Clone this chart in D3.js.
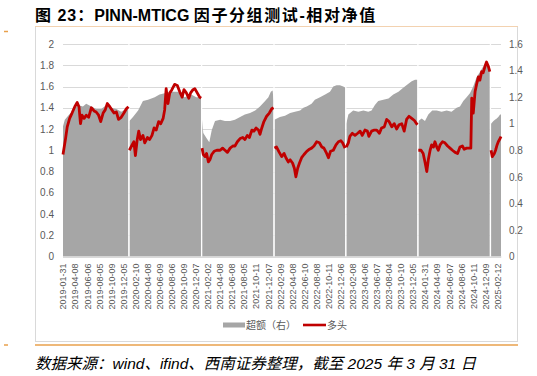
<!DOCTYPE html>
<html lang="zh">
<head>
<meta charset="utf-8">
<title>PINN-MTICG 因子分组测试-相对净值</title>
<script src="https://cdn.jsdelivr.net/npm/d3@7/dist/d3.min.js"></script>
<style>
  body { margin: 0; background: #fff; }
  text { font-family: "Liberation Sans", "Noto Sans CJK SC", sans-serif; }
</style>
</head>
<body>
<script>
// x labels sit every 40 trading days from 2019-01-31
var xLabels = ["2019-01-31","2019-04-08","2019-06-06","2019-08-05","2019-10-09","2019-12-05",
  "2020-02-10","2020-04-08","2020-06-09","2020-08-06","2020-10-09","2020-12-07",
  "2021-02-02","2021-04-08","2021-06-08","2021-08-05","2021-10-11","2021-12-07",
  "2022-02-09","2022-04-08","2022-06-10","2022-08-08","2022-10-11","2022-12-06",
  "2023-02-08","2023-04-06","2023-06-07","2023-08-04","2023-10-10","2023-12-05",
  "2024-01-31","2024-04-09","2024-06-07","2024-08-06","2024-10-11","2024-12-09","2025-02-12"];
var labelStep = 40;
var lastDay = 1452;

var leftTicks = [0, 0.2, 0.4, 0.6, 0.8, 1, 1.2, 1.4, 1.6, 1.8, 2];
var rightTicks = [0, 0.2, 0.4, 0.6, 0.8, 1, 1.2, 1.4, 1.6];

// 多头 (left axis): [trading day, value], one array per year
var longNav = [
  [[0,0.96],[8,1.10],[14,1.22],[22,1.30],[30,1.35],[39,1.41],[47,1.45],[53,1.41],[58,1.25],[63,1.33],[70,1.30],[77,1.33],[85,1.31],[94,1.40],[103,1.37],[110,1.36],[118,1.33],[125,1.27],[133,1.35],[140,1.38],[147,1.44],[155,1.41],[162,1.38],[169,1.35],[177,1.36],[184,1.29],[193,1.31],[202,1.35],[210,1.39],[217,1.41]],
  [[220,1.00],[229,1.05],[235,1.08],[240,0.95],[246,1.10],[251,1.18],[257,1.10],[265,1.14],[271,1.07],[280,1.12],[287,1.10],[295,1.14],[302,1.21],[309,1.19],[317,1.27],[324,1.25],[332,1.30],[337,1.38],[342,1.58],[348,1.44],[354,1.54],[361,1.57],[370,1.62],[379,1.61],[387,1.55],[395,1.50],[401,1.57],[409,1.54],[417,1.49],[423,1.54],[431,1.57],[437,1.58],[445,1.54],[453,1.50],[458,1.49]],
  [[461,1.02],[465,0.96],[471,0.94],[476,0.97],[482,0.89],[487,0.91],[493,0.96],[501,0.99],[510,1.00],[521,1.00],[529,1.02],[537,1.00],[545,0.98],[554,1.02],[563,1.04],[570,1.04],[578,1.08],[587,1.11],[596,1.12],[603,1.10],[611,1.14],[618,1.12],[626,1.19],[633,1.18],[640,1.21],[648,1.19],[653,1.15],[659,1.21],[666,1.27],[675,1.32],[684,1.35],[692,1.39],[698,1.40]],
  [[701,1.02],[708,1.03],[717,0.98],[725,0.94],[733,0.97],[739,0.93],[747,0.89],[753,0.91],[761,0.88],[767,0.83],[772,0.75],[778,0.83],[784,0.88],[791,0.93],[799,0.96],[808,0.99],[817,1.01],[824,1.02],[832,1.04],[841,1.08],[850,1.07],[858,1.03],[865,1.02],[874,0.97],[880,0.93],[887,0.99],[896,1.00],[905,1.05],[913,1.08],[921,1.09],[927,1.07],[935,1.02]],
  [[939,1.03],[946,1.07],[951,1.13],[959,1.16],[968,1.14],[977,1.16],[985,1.18],[992,1.14],[1001,1.19],[1009,1.18],[1014,1.13],[1023,1.18],[1032,1.19],[1040,1.19],[1049,1.16],[1056,1.21],[1065,1.22],[1073,1.29],[1081,1.27],[1090,1.22],[1098,1.25],[1106,1.20],[1114,1.24],[1123,1.25],[1131,1.18],[1139,1.29],[1147,1.32],[1156,1.30],[1165,1.28],[1172,1.25],[1175,1.24]],
  [[1178,1.00],[1187,1.00],[1194,0.97],[1200,0.89],[1206,0.80],[1211,0.91],[1217,1.00],[1222,1.05],[1228,1.03],[1233,1.08],[1239,1.03],[1244,1.00],[1250,1.05],[1258,1.08],[1266,1.07],[1275,1.04],[1283,1.02],[1291,1.00],[1300,0.98],[1308,0.97],[1316,1.03],[1324,1.04],[1330,1.01],[1338,1.02],[1346,1.02],[1352,1.02],[1355,1.49],[1360,1.35],[1366,1.55],[1371,1.62],[1377,1.69],[1382,1.66],[1388,1.74],[1393,1.73],[1399,1.79],[1404,1.83],[1410,1.79],[1415,1.74]],
  [[1419,1.00],[1423,0.94],[1430,0.97],[1434,1.00],[1439,1.05],[1443,1.08],[1449,1.11],[1452,1.13]]
];

// 超额 (right axis)
var excessNav = [
  [[0,0.98],[6,1.03],[17,1.06],[33,1.10],[50,1.14],[66,1.13],[77,1.15],[94,1.13],[110,1.11],[127,1.11],[144,1.14],[160,1.12],[177,1.11],[193,1.09],[210,1.11],[217,1.12]],
  [[220,1.02],[232,1.05],[249,1.10],[265,1.17],[282,1.18],[304,1.20],[320,1.22],[337,1.23],[359,1.24],[381,1.24],[403,1.20],[425,1.22],[442,1.20],[458,1.20]],
  [[461,1.03],[465,0.93],[476,0.89],[485,0.86],[493,0.95],[504,1.02],[521,1.03],[537,1.02],[554,1.02],[570,1.03],[587,1.05],[603,1.07],[620,1.08],[637,1.10],[653,1.13],[670,1.17],[681,1.20],[689,1.24],[695,1.25],[698,1.17]],
  [[701,1.03],[719,1.05],[736,1.06],[753,1.08],[769,1.09],[786,1.10],[797,1.12],[808,1.13],[824,1.15],[835,1.18],[852,1.20],[869,1.22],[885,1.24],[896,1.28],[907,1.29],[918,1.29],[929,1.28],[936,1.27]],
  [[939,1.00],[946,1.07],[962,1.10],[979,1.09],[996,1.10],[1012,1.09],[1023,1.10],[1034,1.14],[1045,1.17],[1062,1.18],[1079,1.19],[1095,1.22],[1112,1.24],[1128,1.27],[1145,1.30],[1156,1.32],[1167,1.33],[1175,1.33]],
  [[1178,1.02],[1189,1.04],[1200,1.02],[1211,1.07],[1224,1.10],[1239,1.10],[1255,1.09],[1272,1.10],[1288,1.09],[1305,1.12],[1316,1.13],[1327,1.17],[1338,1.20],[1349,1.23],[1360,1.28],[1371,1.35],[1382,1.39],[1393,1.43],[1404,1.45],[1415,1.43]],
  [[1419,1.00],[1427,1.02],[1432,1.03],[1438,1.04],[1443,1.05],[1449,1.07],[1452,1.07]]
];

var w = 537, h = 376;
var svg = d3.select("body").append("svg")
  .attr("width", w)
  .attr("height", h);

// title: latin part bold, chinese part spaced out
var title = svg.append("text")
  .attr("x", 35).attr("y", 21)
  .attr("font-size", 16)
  .attr("fill", "#000");
title.append("tspan").attr("font-weight", "bold").attr("letter-spacing", 1).text("图 23：");
title.append("tspan").attr("font-weight", "bold").text("PINN-MTICG ");
title.append("tspan").attr("font-weight", "bold").attr("letter-spacing", 1.6).text("因子分组测试-相对净值");

// frame
svg.append("rect")
  .attr("x", 35.5).attr("y", 26.5)
  .attr("width", 482).attr("height", 315)
  .attr("fill", "none").attr("stroke", "#d9d9d9");
svg.append("line")
  .attr("x1", 35).attr("x2", 518).attr("y1", 26.5).attr("y2", 26.5)
  .attr("stroke", "#f3d2b0");
svg.append("line")
  .attr("x1", 35).attr("x2", 518).attr("y1", 345).attr("y2", 345)
  .attr("stroke", "#e8a04c").attr("stroke-width", 1.5);
[31.5, 345].forEach(function(yy){
  svg.append("line").attr("x1", 4).attr("x2", 8).attr("y1", yy).attr("y2", yy)
    .attr("stroke", "#e8a04c").attr("stroke-width", 1.5);
});

var x = d3.scaleLinear().domain([0, lastDay]).range([63, 501]);
var yL = d3.scaleLinear().domain([0, 2]).range([256.5, 44]);
var yR = d3.scaleLinear().domain([0, 1.6]).range([256.5, 44]);

// gridlines
svg.append("g").selectAll("line")
  .data(leftTicks)
  .enter().append("line")
  .attr("x1", 63).attr("x2", 501)
  .attr("y1", function(d){ return Math.round(yL(d)) + 0.5; })
  .attr("y2", function(d){ return Math.round(yL(d)) + 0.5; })
  .attr("stroke", "#d9d9d9");

// 超额 area, one piece per year
var area = d3.area()
  .x(function(d){ return x(d[0]); })
  .y0(yR(0))
  .y1(function(d){ return yR(d[1]); });

svg.append("g").selectAll("path")
  .data(excessNav)
  .enter().append("path")
  .attr("d", area)
  .attr("fill", "#a6a6a6");

// white split between years
svg.append("g").selectAll("line")
  .data(excessNav.slice(1))
  .enter().append("line")
  .attr("x1", function(d, i){ return (x(excessNav[i][excessNav[i].length-1][0]) + x(d[0][0])) / 2; })
  .attr("x2", function(d, i){ return (x(excessNav[i][excessNav[i].length-1][0]) + x(d[0][0])) / 2; })
  .attr("y1", yL(2)).attr("y2", yR(0))
  .attr("stroke", "#fff").attr("stroke-width", 1.3);

// 多头 line
var line = d3.line()
  .x(function(d){ return x(d[0]); })
  .y(function(d){ return yL(d[1]); });

svg.append("g").selectAll("path")
  .data(longNav)
  .enter().append("path")
  .attr("d", line)
  .attr("fill", "none")
  .attr("stroke", "#c00000")
  .attr("stroke-width", 2.8)
  .attr("stroke-linejoin", "round");

// axes
var leftAxis = d3.axisLeft(yL).tickValues(leftTicks).tickSize(0).tickPadding(9)
  .tickFormat(function(d){ return String(d); });
var gl = svg.append("g").attr("transform", "translate(63,0)").call(leftAxis);
gl.select(".domain").remove();
gl.selectAll("text").attr("font-size", 10).attr("fill", "#595959")
  .style("font-family", "Liberation Sans, sans-serif");

var rightAxis = d3.axisRight(yR).tickValues(rightTicks).tickSize(0).tickPadding(8)
  .tickFormat(function(d){ return String(d); });
var gr = svg.append("g").attr("transform", "translate(501,0)").call(rightAxis);
gr.select(".domain").remove();
gr.selectAll("text").attr("font-size", 10).attr("fill", "#595959")
  .style("font-family", "Liberation Sans, sans-serif");

var bottomAxis = d3.axisBottom(x)
  .tickValues(xLabels.map(function(d, i){ return i * labelStep; }))
  .tickSize(0)
  .tickFormat(function(d, i){ return xLabels[i]; });
var gb = svg.append("g").attr("transform", "translate(0," + yR(0) + ")").call(bottomAxis);
gb.select(".domain").attr("stroke", "#d9d9d9");
gb.selectAll("text")
  .attr("font-size", 9)
  .attr("fill", "#595959")
  .attr("text-anchor", "end")
  .attr("transform", "rotate(-90)")
  .attr("x", -7).attr("y", 0).attr("dy", "0.32em")
  .style("font-family", "Liberation Sans, sans-serif");

// legend
var lg = svg.append("g").attr("font-size", 10).attr("fill", "#595959");
lg.append("rect").attr("x", 223).attr("y", 322.5).attr("width", 22).attr("height", 5).attr("fill", "#a6a6a6");
lg.append("text").attr("x", 246).attr("y", 329).attr("fill", "#595959").text("超额（右）");
lg.append("line").attr("x1", 303).attr("x2", 326).attr("y1", 325).attr("y2", 325)
  .attr("stroke", "#c00000").attr("stroke-width", 2.6);
lg.append("text").attr("x", 327).attr("y", 329).attr("fill", "#595959").text("多头");

// source note
svg.append("text")
  .attr("x", 35).attr("y", 369)
  .attr("font-size", 15.5).attr("font-style", "italic")
  .attr("fill", "#000")
  .text("数据来源：wind、ifind、西南证券整理，截至 2025 年 3 月 31 日");
</script>
</body>
</html>
